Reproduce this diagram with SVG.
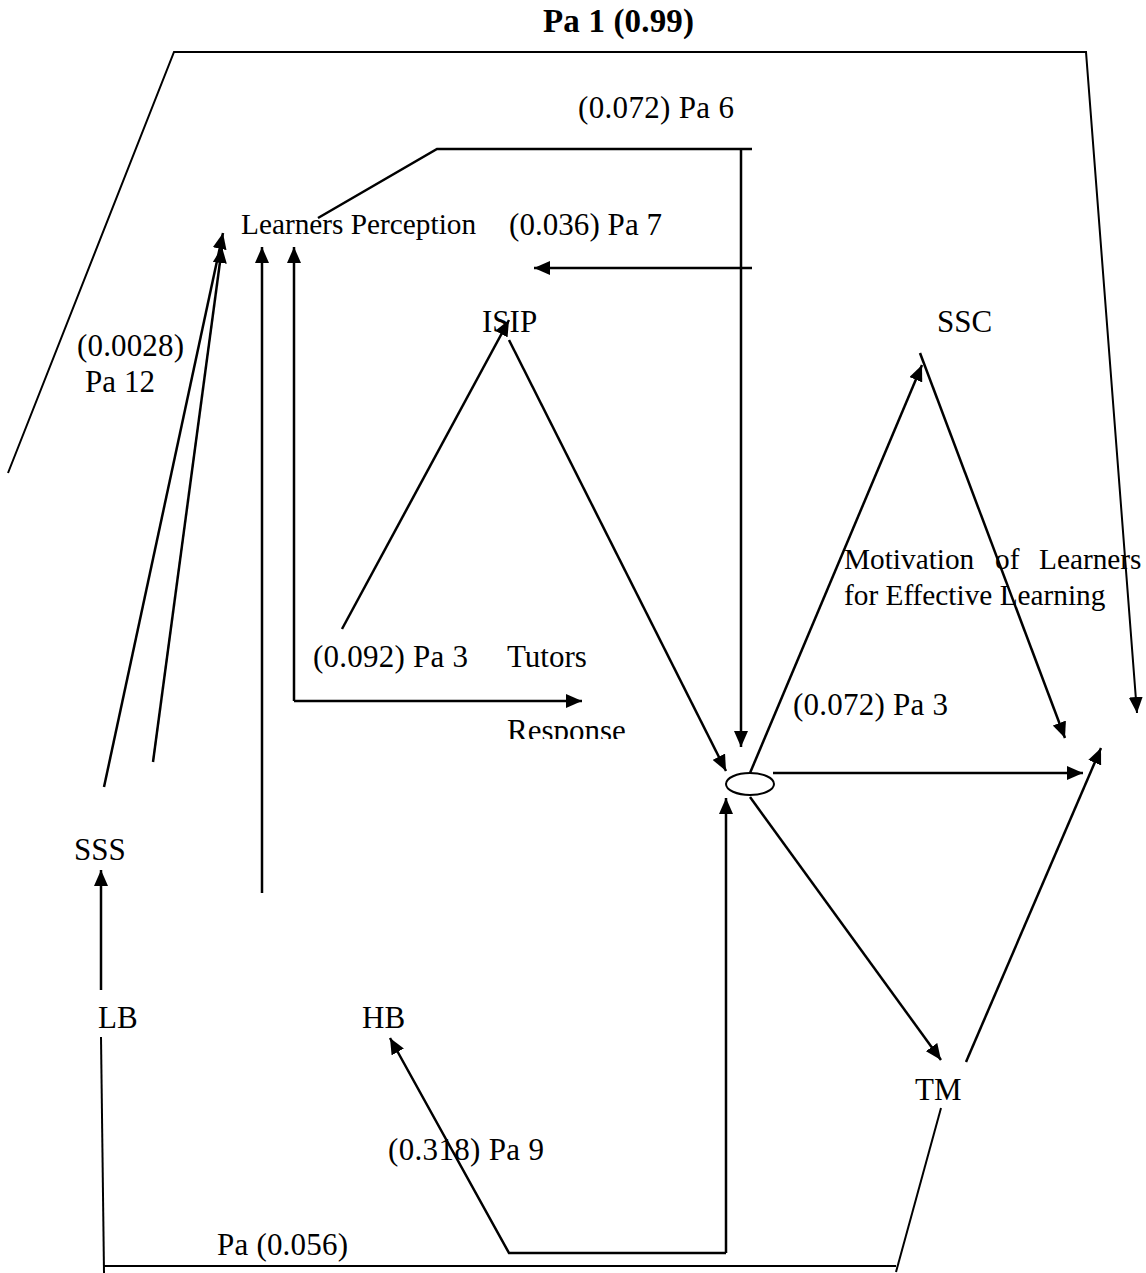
<svg xmlns="http://www.w3.org/2000/svg" width="1146" height="1273" viewBox="0 0 1146 1273">
<style>
  text { font-family: "Liberation Serif", "Times New Roman", serif; font-size: 31px; fill: #000; }
  .s { font-size: 29.3px; }
  .b { font-weight: bold; font-size: 33px; }
  .ln { fill: none; stroke: #000; stroke-width: 2.5; }
  .thin { fill: none; stroke: #000; stroke-width: 2; }
  .arr { marker-end: url(#ah); }
</style>
<defs>
  <marker id="ah" viewBox="0 0 16 14" markerWidth="16" markerHeight="14" refX="16" refY="7" orient="auto" markerUnits="userSpaceOnUse">
    <path d="M0,0 L16,7 L0,14 z" fill="#000"/>
  </marker>
  <clipPath id="respClip"><rect x="490" y="700" width="160" height="39"/></clipPath>
</defs>
<rect width="1146" height="1273" fill="#fff"/>

<g id="connectors">
  <path class="thin arr" d="M8,473 L174,52 L1086,52 L1137,713"/>
  <path class="ln" d="M318,218 L437,149 L752,149"/>
  <path class="ln arr" d="M741,149 L741,747"/>
  <path class="ln arr" d="M752,268 L534,268"/>
  <path class="ln arr" d="M104,787 L223,233"/>
  <path class="ln arr" d="M153,762 L222,247"/>
  <path class="ln arr" d="M262,893 L262,247"/>
  <path class="ln arr" d="M294,701 L294,247"/>
  <path class="ln arr" d="M294,701 L582,701"/>
  <path class="ln arr" d="M342,629 L509,320"/>
  <path class="ln arr" d="M509,340 L726,771"/>
  <path class="ln arr" d="M750,773 L922,365"/>
  <path class="ln arr" d="M920,353 L1065,738"/>
  <path class="ln arr" d="M773,773 L1083,773"/>
  <path class="ln arr" d="M750,797 L941,1060"/>
  <path class="ln arr" d="M966,1062 L1101,748"/>
  <path class="ln arr" d="M726,1253 L509,1253 L390,1038"/>
  <path class="ln arr" d="M726,1253 L726,798"/>
  <path class="ln arr" d="M101,990 L101,870"/>
  <path class="thin" d="M101,1037 L104,1273"/>
  <path class="thin" d="M104,1266 L896,1266"/>
  <path class="thin" d="M896,1272 L941,1108"/>
</g>

<g id="node-junction">
  <ellipse cx="750" cy="784" rx="24" ry="11" fill="#fff" stroke="#000" stroke-width="2"/>
</g>
<g id="node-learners-perception"><text class="s" x="241" y="234">Learners Perception</text></g>
<g id="node-isip"><text x="482" y="332">ISIP</text></g>
<g id="node-ssc"><text x="937" y="332">SSC</text></g>
<g id="node-tutors"><text x="507" y="667">Tutors</text></g>
<g id="node-response"><text x="507" y="741" clip-path="url(#respClip)">Response</text></g>
<g id="node-motivation">
  <text class="s" x="844" y="569">Motivation</text>
  <text class="s" x="995" y="569">of</text>
  <text class="s" x="1039" y="569">Learners</text>
  <text class="s" x="844" y="605">for Effective Learning</text>
</g>
<g id="node-sss"><text x="74" y="860">SSS</text></g>
<g id="node-lb"><text x="98" y="1028">LB</text></g>
<g id="node-hb"><text x="362" y="1028">HB</text></g>
<g id="node-tm"><text x="915" y="1100">TM</text></g>

<g id="labels">
  <text class="b" x="543" y="32" textLength="151" lengthAdjust="spacing">Pa 1 (0.99)</text>
  <text x="578" y="118" textLength="156" lengthAdjust="spacing">(0.072) Pa 6</text>
  <text x="509" y="235" textLength="153" lengthAdjust="spacing">(0.036) Pa 7</text>
  <text x="77" y="356" textLength="107" lengthAdjust="spacing">(0.0028)</text>
  <text x="85" y="392" textLength="70" lengthAdjust="spacing">Pa 12</text>
  <text x="313" y="667" textLength="155" lengthAdjust="spacing">(0.092) Pa 3</text>
  <text x="793" y="715" textLength="155" lengthAdjust="spacing">(0.072) Pa 3</text>
  <text x="388" y="1160" textLength="156" lengthAdjust="spacing">(0.318) Pa 9</text>
  <text x="217" y="1255" textLength="131" lengthAdjust="spacing">Pa (0.056)</text>
</g>
</svg>
